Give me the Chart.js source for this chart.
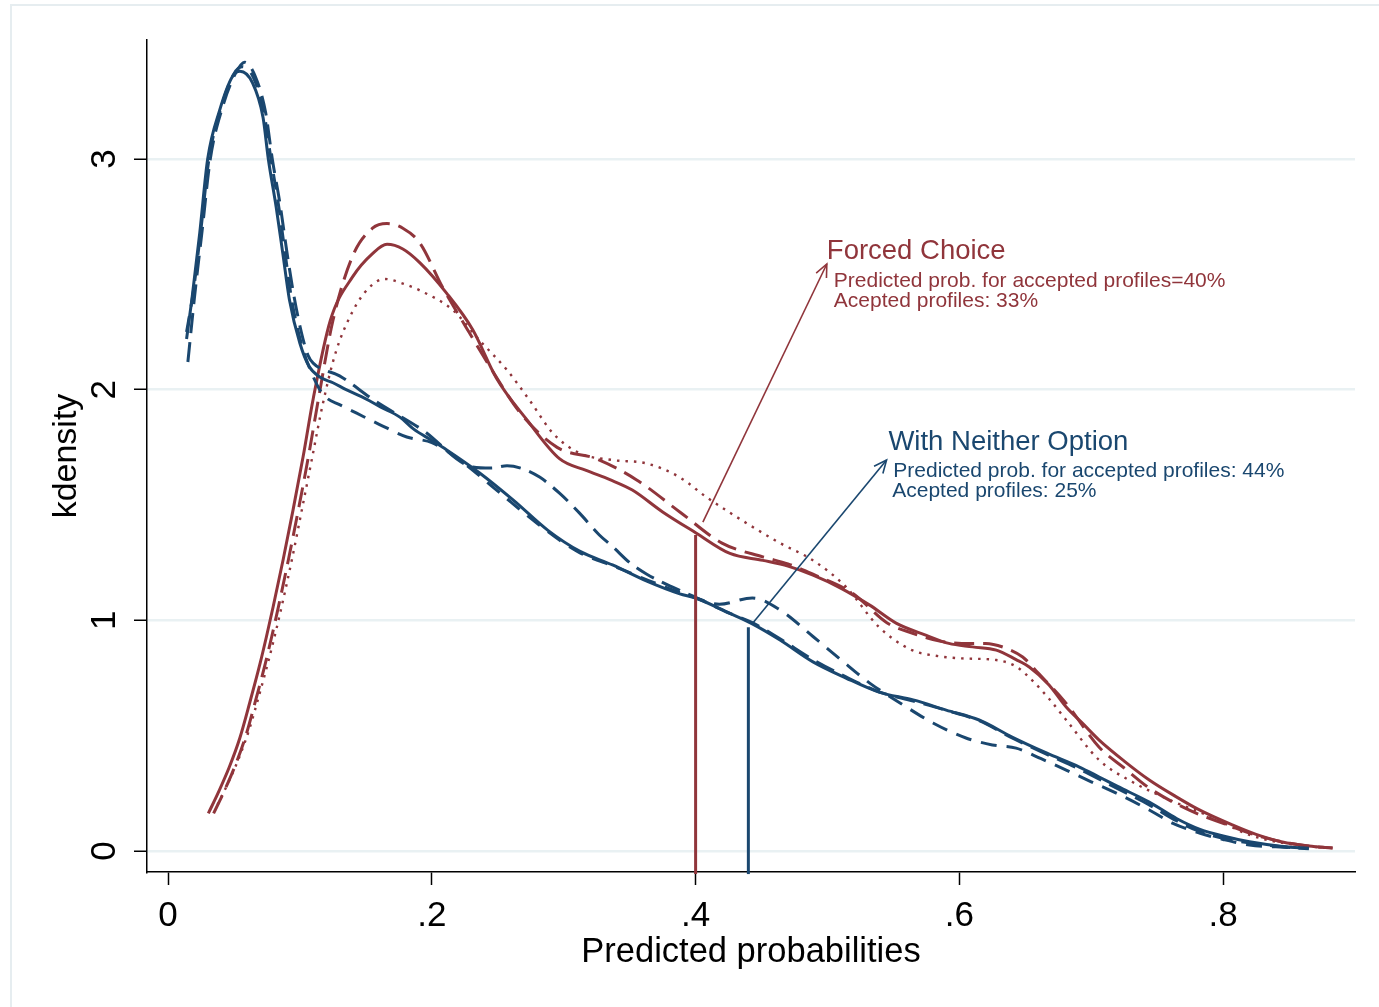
<!DOCTYPE html>
<html>
<head>
<meta charset="utf-8">
<title>kdensity</title>
<script src="https://cdn.jsdelivr.net/npm/chart.js@4.4.1/dist/chart.umd.min.js"></script>
<style>
  html, body { margin: 0; padding: 0; background: #fff; }
  #wrap { width: 1379px; height: 1007px; }
</style>
</head>
<body>
<div id="wrap"><canvas id="kdens" width="1379" height="1007"></canvas></div>
<script>
// axes
const xMin = -0.016, xMax = 0.9;
const yMin = -0.091, yMax = 3.516;
const xTickVals = [0, 0.2, 0.4, 0.6, 0.8];
const xTickLabels = ['0', '.2', '.4', '.6', '.8'];
const yTickVals = [0, 1, 2, 3];
const yTickLabels = ['0', '1', '2', '3'];

// Forced Choice (red)
const fcSolidX = [0.0305,0.0389,0.0465,0.0544,0.062,0.0696,0.0746,0.0797,0.0873,0.0948,0.1024,0.11,0.123,0.14,0.155,0.166,0.178,0.191,0.211,0.231,0.249,0.272,0.297,0.317,0.335,0.352,0.375,0.4,0.426,0.451,0.47,0.489,0.51,0.532,0.552,0.575,0.592,0.61,0.628,0.643,0.653,0.668,0.681,0.694,0.706,0.725,0.744,0.763,0.782,0.807,0.825,0.845,0.865,0.883];
const fcSolidY = [0.163,0.264,0.365,0.49,0.645,0.81,0.93,1.06,1.265,1.48,1.71,1.96,2.30,2.49,2.59,2.63,2.61,2.55,2.42,2.26,2.05,1.87,1.70,1.65,1.61,1.565,1.47,1.38,1.29,1.26,1.235,1.196,1.14,1.066,0.988,0.935,0.90,0.885,0.871,0.83,0.798,0.72,0.624,0.55,0.481,0.39,0.308,0.24,0.178,0.113,0.072,0.039,0.022,0.013];
const fcDashX = [0.0345,0.0429,0.0505,0.0584,0.066,0.0736,0.0786,0.0837,0.0913,0.0988,0.1064,0.114,0.125,0.14,0.155,0.166,0.178,0.191,0.208,0.226,0.244,0.267,0.295,0.325,0.355,0.388,0.42,0.451,0.47,0.489,0.519,0.545,0.564,0.585,0.602,0.62,0.633,0.648,0.66,0.681,0.706,0.725,0.744,0.774,0.8,0.83,0.86,0.883];
const fcDashY = [0.163,0.264,0.365,0.49,0.645,0.81,0.93,1.06,1.265,1.48,1.71,1.96,2.30,2.58,2.70,2.72,2.70,2.635,2.445,2.27,2.10,1.90,1.75,1.70,1.61,1.47,1.335,1.275,1.245,1.20,1.118,0.99,0.945,0.91,0.90,0.90,0.884,0.841,0.77,0.64,0.45,0.36,0.273,0.178,0.12,0.06,0.025,0.013];
const fcDotX = [0.0375,0.0459,0.0535,0.0614,0.069,0.0766,0.0816,0.0867,0.0943,0.1018,0.1094,0.117,0.127,0.14,0.152,0.164,0.178,0.191,0.216,0.236,0.257,0.274,0.292,0.312,0.337,0.363,0.388,0.408,0.439,0.464,0.489,0.514,0.539,0.564,0.584,0.602,0.628,0.643,0.655,0.668,0.681,0.706,0.731,0.76,0.79,0.82,0.85,0.88];
const fcDotY = [0.2,0.3,0.4,0.525,0.675,0.835,0.95,1.075,1.275,1.49,1.71,1.93,2.16,2.34,2.44,2.48,2.46,2.43,2.345,2.215,2.085,1.955,1.81,1.725,1.695,1.68,1.62,1.535,1.42,1.335,1.26,1.145,0.971,0.871,0.845,0.835,0.828,0.80,0.741,0.66,0.568,0.394,0.30,0.22,0.15,0.07,0.03,0.013];

// With Neither Option (navy)
const wnSolidX = [0.014,0.018,0.024,0.03,0.039,0.049,0.0545,0.064,0.072,0.076,0.082,0.087,0.092,0.1,0.107,0.115,0.125,0.135,0.15,0.161,0.176,0.186,0.2,0.211,0.236,0.262,0.288,0.312,0.337,0.363,0.388,0.4,0.426,0.443,0.464,0.489,0.514,0.539,0.565,0.59,0.615,0.64,0.666,0.691,0.706,0.72,0.744,0.765,0.782,0.8,0.82,0.845,0.865];
const wnSolidY = [2.22,2.39,2.68,3.0,3.21,3.36,3.38,3.33,3.18,3.0,2.79,2.59,2.39,2.2,2.1,2.055,2.03,2.0,1.96,1.925,1.88,1.83,1.78,1.74,1.64,1.52,1.39,1.30,1.24,1.17,1.115,1.097,1.03,0.985,0.915,0.82,0.75,0.689,0.655,0.611,0.568,0.494,0.425,0.364,0.321,0.28,0.212,0.14,0.095,0.065,0.04,0.02,0.012];
const wnDash1X = [0.015,0.02,0.026,0.032,0.041,0.051,0.058,0.066,0.074,0.079,0.085,0.09,0.095,0.101,0.106,0.11,0.13,0.156,0.193,0.231,0.245,0.257,0.27,0.282,0.297,0.312,0.327,0.337,0.35,0.363,0.388,0.4,0.426,0.443,0.464,0.489,0.514,0.539,0.565,0.59,0.615,0.64,0.666,0.691,0.72,0.744,0.765,0.782,0.8,0.82,0.845,0.865];
const wnDash1Y = [2.12,2.4,2.7,3.0,3.22,3.37,3.42,3.36,3.2,3.0,2.8,2.6,2.42,2.25,2.15,2.115,2.06,1.955,1.825,1.665,1.66,1.67,1.655,1.62,1.55,1.465,1.37,1.32,1.25,1.20,1.13,1.10,1.03,0.99,0.92,0.83,0.755,0.69,0.65,0.61,0.565,0.49,0.42,0.355,0.27,0.20,0.13,0.085,0.055,0.035,0.018,0.01];
const wnDash2X = [0.014,0.019,0.025,0.031,0.04,0.05,0.056,0.065,0.073,0.078,0.084,0.089,0.094,0.102,0.109,0.115,0.12,0.13,0.143,0.16,0.181,0.2,0.22,0.25,0.28,0.31,0.34,0.37,0.4,0.418,0.443,0.464,0.489,0.51,0.532,0.555,0.58,0.605,0.625,0.643,0.662,0.681,0.7,0.719,0.744,0.762,0.782,0.8,0.82,0.84,0.858];
const wnDash2Y = [2.25,2.42,2.7,3.0,3.22,3.37,3.40,3.35,3.19,3.0,2.79,2.58,2.38,2.18,2.07,2.0,1.965,1.935,1.898,1.85,1.795,1.77,1.70,1.56,1.42,1.30,1.23,1.16,1.097,1.07,1.097,1.045,0.93,0.83,0.728,0.642,0.555,0.49,0.46,0.446,0.40,0.351,0.30,0.251,0.178,0.12,0.078,0.05,0.026,0.018,0.013];

// drop lines at the predicted probability for accepted profiles
const fcCutX = [0.4, 0.4], fcCutY = [-0.1, 1.37];
const wnCutX = [0.44, 0.44], wnCutY = [-0.1, 0.97];

// arrows (start -> tip) and their texts
const fcArrowX = [0.4055, 0.4995], fcArrowY = [1.426, 2.545];
const wnArrowX = [0.4434, 0.5448], wnArrowY = [0.988, 1.695];
const fcNotes = ['Forced Choice', 'Predicted prob. for accepted profiles=40%', 'Acepted profiles: 33%'];
const fcNoteX = [0.4995, 0.5048, 0.5048], fcNoteY = [2.566, 2.445, 2.36];
const wnNotes = ['With Neither Option', 'Predicted prob. for accepted profiles: 44%', 'Acepted profiles: 25%'];
const wnNoteX = [0.5462, 0.5499, 0.5491], wnNoteY = [1.738, 1.623, 1.535];

const red = '#90353b';
const navy = '#1a476f';
const font = 'Liberation Sans, Arial, Helvetica, sans-serif';

function pts(xs, ys) {
    return xs.map((x, i) => ({ x: x, y: ys[i] }));
}

function curve(label, xs, ys, color, width, dash) {
    return {
        label: label,
        data: pts(xs, ys),
        borderColor: color,
        borderWidth: width,
        borderDash: dash,
        pointRadius: 0,
        fill: false,
        cubicInterpolationMode: 'monotone'
    };
}

function straight(label, xs, ys, color, width) {
    return {
        label: label,
        data: pts(xs, ys),
        borderColor: color,
        borderWidth: width,
        pointRadius: 0,
        fill: false,
        tension: 0,
        clip: false
    };
}

// light frame round the graph region
const framePlugin = {
    id: 'frame',
    beforeDraw(chart) {
        const c = chart.ctx;
        c.save();
        c.fillStyle = '#fff';
        c.fillRect(0, 0, chart.width, chart.height);
        c.strokeStyle = '#e6edf0';
        c.lineWidth = 2;
        c.strokeRect(11, 5, chart.width + 20, chart.height + 20);
        c.restore();
    }
};

// arrow heads and the texts
const notesPlugin = {
    id: 'notes',
    afterDatasetsDraw(chart) {
        const c = chart.ctx;
        const xs = chart.scales.x, ys = chart.scales.y;
        c.save();
        [[fcArrowX, fcArrowY, red], [wnArrowX, wnArrowY, navy]].forEach(a => {
            const x0 = xs.getPixelForValue(a[0][0]), y0 = ys.getPixelForValue(a[1][0]);
            const x1 = xs.getPixelForValue(a[0][1]), y1 = ys.getPixelForValue(a[1][1]);
            const ang = Math.atan2(y1 - y0, x1 - x0);
            const len = 14, spread = 0.42;
            c.strokeStyle = a[2];
            c.lineWidth = 1.6;
            c.beginPath();
            c.moveTo(x1 - len * Math.cos(ang - spread), y1 - len * Math.sin(ang - spread));
            c.lineTo(x1, y1);
            c.lineTo(x1 - len * Math.cos(ang + spread), y1 - len * Math.sin(ang + spread));
            c.stroke();
        });
        c.textAlign = 'left';
        c.textBaseline = 'alphabetic';
        [[fcNotes, fcNoteX, fcNoteY, red], [wnNotes, wnNoteX, wnNoteY, navy]].forEach(n => {
            c.fillStyle = n[3];
            n[0].forEach((t, i) => {
                c.font = (i === 0 ? '27.5px ' : '21px ') + font;
                c.fillText(t, xs.getPixelForValue(n[1][i]), ys.getPixelForValue(n[2][i]));
            });
        });
        c.restore();
    }
};

const chart = new Chart(document.getElementById('kdens'), {
    type: 'line',
    data: {
        datasets: [
            straight('fc cut', fcCutX, fcCutY, red, 3),
            straight('wn cut', wnCutX, wnCutY, navy, 3),
            straight('fc arrow', fcArrowX, fcArrowY, red, 1.6),
            straight('wn arrow', wnArrowX, wnArrowY, navy, 1.6),
            curve('wn solid', wnSolidX, wnSolidY, navy, 3, []),
            curve('wn dash 1', wnDash1X, wnDash1Y, navy, 3, [20, 9]),
            curve('wn dash 2', wnDash2X, wnDash2Y, navy, 3, [16, 10]),
            curve('fc solid', fcSolidX, fcSolidY, red, 3, []),
            curve('fc dash', fcDashX, fcDashY, red, 3, [20, 9]),
            curve('fc dot', fcDotX, fcDotY, red, 2.4, [2.5, 6])
        ]
    },
    options: {
        responsive: false,
        animation: false,
        devicePixelRatio: 1,
        layout: { padding: { top: 40, right: 24, bottom: 0, left: 0 } },
        plugins: {
            legend: { display: false },
            tooltip: { enabled: false }
        },
        scales: {
            x: {
                type: 'linear',
                min: xMin,
                max: xMax,
                afterBuildTicks: s => { s.ticks = xTickVals.map(v => ({ value: v })); },
                afterFit: s => { s.height = 135; },
                ticks: {
                    callback: (v, i) => xTickLabels[i],
                    autoSkip: false,
                    maxRotation: 0,
                    padding: 10,
                    color: '#000',
                    font: { family: font, size: 35 }
                },
                grid: { drawOnChartArea: false, tickLength: 13, tickColor: '#000', tickWidth: 1.5 },
                border: { color: '#000', width: 1.5 },
                title: {
                    display: true,
                    text: 'Predicted probabilities',
                    color: '#000',
                    font: { family: font, size: 34.5, lineHeight: 1.2 },
                    padding: { top: 0, bottom: 34 }
                }
            },
            y: {
                type: 'linear',
                min: yMin,
                max: yMax,
                afterBuildTicks: s => { s.ticks = yTickVals.map(v => ({ value: v })); },
                afterFit: s => { s.width = 147; },
                ticks: {
                    callback: (v, i) => yTickLabels[i],
                    minRotation: 90,
                    maxRotation: 90,
                    crossAlign: 'center',
                    padding: 19,
                    color: '#000',
                    font: { family: font, size: 35 }
                },
                grid: { color: '#e9f1f3', lineWidth: 2.5, tickLength: 13, tickColor: '#000', tickWidth: 1.5 },
                border: { color: '#000', width: 1.5 },
                title: {
                    display: true,
                    text: 'kdensity',
                    color: '#000',
                    font: { family: font, size: 34, lineHeight: 1.2 },
                    padding: { top: 46, bottom: 0 }
                }
            }
        }
    },
    plugins: [framePlugin, notesPlugin]
});
</script>
</body>
</html>
